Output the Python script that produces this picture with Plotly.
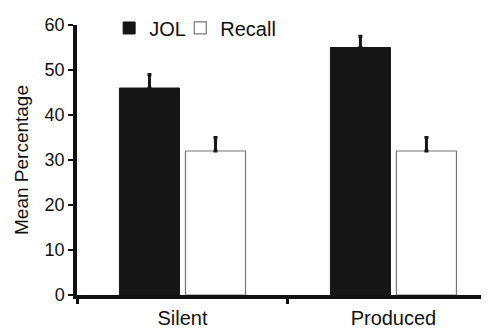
import plotly.graph_objects as go

categories = ["Silent", "Produced"]
jol_values = [46, 55]
jol_errors = [3, 2.5]
recall_values = [32, 32]
recall_errors = [3, 3]

FONT = "Liberation Sans, Arial, Helvetica, sans-serif"

fig = go.Figure()
fig.add_trace(go.Bar(
    name="JOL", x=categories, y=jol_values, legend="legend",
    marker=dict(color="#161616", line=dict(color="#161616", width=1)),
    error_y=dict(type="data", array=jol_errors, arrayminus=[], symmetric=False,
                 color="#161616", thickness=3, width=2),
))
fig.add_trace(go.Bar(
    name="Recall", x=categories, y=recall_values, legend="legend2",
    marker=dict(color="white", line=dict(color="#777777", width=1.2)),
    error_y=dict(type="data", array=recall_errors, arrayminus=[], symmetric=False,
                 color="#161616", thickness=3, width=2),
))

legend_common = dict(orientation="h", y=0.989, xanchor="left", yanchor="middle",
                     font=dict(size=20), itemwidth=30,
                     bgcolor="rgba(0,0,0,0)")

fig.update_layout(
    width=481, height=320,
    margin=dict(l=69, r=0, t=14, b=33),
    paper_bgcolor="white", plot_bgcolor="white",
    barmode="group", bargap=0.374, bargroupgap=0.091,
    font=dict(family=FONT, size=16, color="#111111"),
    showlegend=True,
    legend=dict(x=0.078, **legend_common),
    legend2=dict(x=0.2506, **legend_common),
    xaxis=dict(
        range=[-0.5, 1.453], showgrid=False, zeroline=False, automargin=False,
        showline=True, linecolor="#111111", linewidth=3.5,
        tickson="boundaries", ticks="outside", ticklen=5, tickwidth=3, tickcolor="#111111",
        tickfont=dict(size=20), ticklabelstandoff=2, fixedrange=True,
    ),
    yaxis=dict(
        range=[0, 60], tickvals=[0, 10, 20, 30, 40, 50, 60],
        showgrid=False, zeroline=False, automargin=False,
        showline=True, linecolor="#111111", linewidth=3.5,
        ticks="outside", ticklen=5, tickwidth=2, tickcolor="#111111",
        tickfont=dict(size=18),
        title=dict(text="Mean Percentage", font=dict(size=19), standoff=12),
        fixedrange=True,
    ),
)

fig.write_html("out.html")
